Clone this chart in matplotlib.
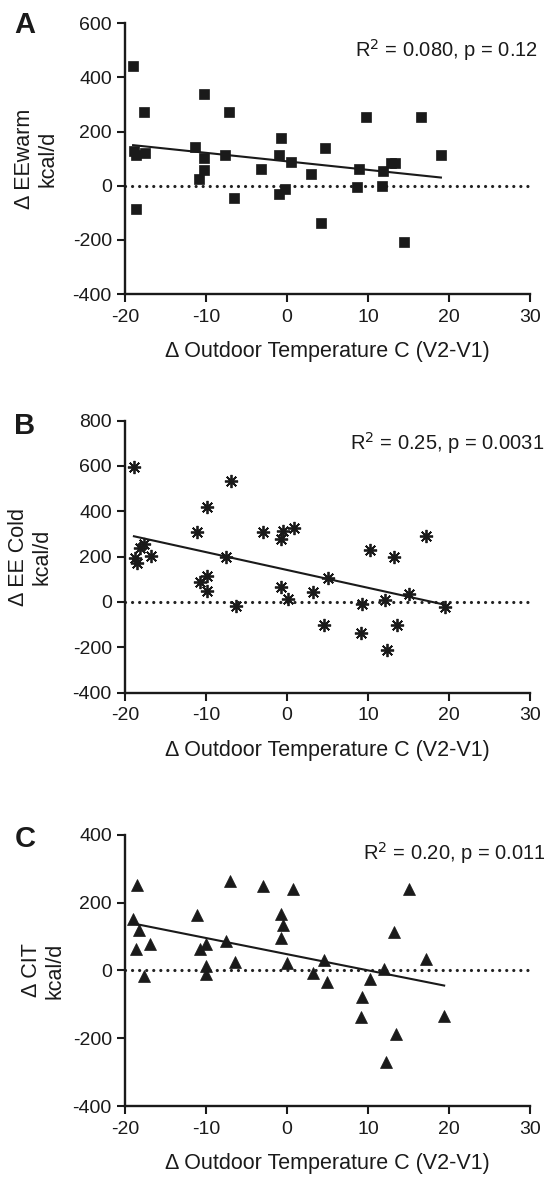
import numpy as np
import matplotlib
matplotlib.use("Agg")
import matplotlib.pyplot as plt

plt.rcParams['font.family'] = ['Liberation Sans', 'DejaVu Sans']
plt.rcParams['axes.unicode_minus'] = False

# ---------------- data ----------------
# Panel A: delta EEwarm
a_temp = [-19.0, -18.6, -17.7, -18.9, -18.6, -17.5, -11.3, -10.2, -10.2, -10.2, -10.9,
          -7.7, -7.2, -6.6, -3.2, -1.0, -0.75, -1.0, -0.2, 0.55, 2.9, 4.2, 4.65,
          8.9, 8.7, 9.8, 11.7, 11.9, 12.8, 13.3, 14.5, 16.6, 19.0]
a_val = [443, -84, 273, 130, 115, 120, 144, 338, 101, 58, 24,
         114, 272, -47, 62, 114, 178, -31, -12, 89, 43, -137, 138,
         62, -4, 255, 0, 54, 83, 83, -207, 255, 112]

# Panel B: delta EE Cold
b_temp = [-18.9, -18.8, -18.5, -18.1, -17.6, -16.8, -11.15, -9.9, -10.7, -9.9, -9.9,
          -6.95, -7.5, -6.3, -3.0, -0.8, -0.45, 0.86, -0.8, 0.08, 3.25, 5.0, 4.6,
          9.3, 9.1, 10.2, 12.1, 13.2, 13.6, 15.1, 17.1, 19.5, 12.3]
b_val = [596, 193, 171, 237, 255, 202, 309, 420, 89, 115, 48,
         534, 199, -19, 309, 280, 314, 328, 67, 12, 42, 106, -102,
         -11, -136, 231, 8, 199, -102, 34, 290, -21, -213]

# Panel C: delta CIT
c_temp = [-18.5, -19.0, -18.3, -18.6, -16.9, -17.6, -11.15, -10.7, -10.0, -10.0, -10.0,
          -7.0, -7.5, -6.4, -3.0, -0.8, -0.55, -0.8, 0.78, 0.04, 3.25, 4.57, 4.9,
          10.2, 9.3, 9.1, 12.0, 13.2, 13.5, 15.0, 17.1, 19.4, 12.2]
c_val = [251, 152, 120, 63, 79, -16, 164, 64, 79, 12, -11,
         264, 88, 26, 248, 166, 133, 95, 240, 21, -6, 31, -35,
         -26, -77, -136, 5, 113, -188, 241, 33, -134, -269]

x_ticks = [-20, -10, 0, 10, 20, 30]

panels = [
    dict(letter='A', x=a_temp, y=a_val, ylabel='\u0394 EEwarm\nkcal/d',
         ylim=(-400, 600), yticks=[-400, -200, 0, 200, 400, 600],
         stat='R$^2$ = 0.080, p = 0.12', marker='s', ms=7.5, mew=0.5,
         rect=(0.2298, 0.7506, 0.7445, 0.2296), ylab_x=36, stat_xy=(355, 50),
         letter_y=25),
    dict(letter='B', x=b_temp, y=b_val, ylabel='\u0394 EE Cold\nkcal/d',
         ylim=(-400, 800), yticks=[-400, -200, 0, 200, 400, 600, 800],
         stat='R$^2$ = 0.25, p = 0.0031', marker=(8, 2, 0), ms=9.5, mew=1.3,
         rect=(0.2298, 0.4125, 0.7445, 0.2307), ylab_x=30, stat_xy=(350, 443),
         letter_y=426),
    dict(letter='C', x=c_temp, y=c_val, ylabel='\u0394 CIT\nkcal/d',
         ylim=(-400, 400), yticks=[-400, -200, 0, 200, 400],
         stat='R$^2$ = 0.20, p = 0.011', marker='^', ms=9, mew=0.5,
         rect=(0.2298, 0.0619, 0.7445, 0.2299), ylab_x=43, stat_xy=(363, 853),
         letter_y=839),
]

W, H = 544, 1179
fig = plt.figure(figsize=(W / 100, H / 100), dpi=100)
ink = '#1a1a1a'

for p in panels:
    ax = fig.add_axes(p['rect'])
    x = np.array(p['x'], dtype=float)
    y = np.array(p['y'], dtype=float)
    ax.plot([-20, 30], [0, 0], color='#222222', lw=2.3, linestyle=(0, (0.01, 2.2)),
            dash_capstyle='round', zorder=1)
    slope, intercept = np.polyfit(x, y, 1)
    xs = np.array([x.min(), x.max()])
    ax.plot(xs, slope * xs + intercept, color=ink, lw=1.5, zorder=2)
    ax.plot(x, y, linestyle='none', marker=p['marker'], ms=p['ms'],
            color=ink, mec=ink, mew=p['mew'], zorder=3, clip_on=False)
    ax.set_xlim(-20, 30)
    ax.set_ylim(*p['ylim'])
    ax.set_xticks(x_ticks)
    ax.set_yticks(p['yticks'])
    for s in ['top', 'right']:
        ax.spines[s].set_visible(False)
    for s in ['left', 'bottom']:
        ax.spines[s].set_linewidth(1.7)
        ax.spines[s].set_color(ink)
    ax.tick_params(direction='out', length=5.5, width=1.5, color=ink,
                   labelsize=14, labelcolor=ink)
    ax.tick_params(axis='x', pad=5)
    ax.tick_params(axis='y', pad=4)
    ax.set_xlabel('\u0394 Outdoor Temperature C (V2-V1)', fontsize=15.5,
                  color=ink, labelpad=11)
    ax.patch.set_alpha(0)
    yc = p['rect'][1] + p['rect'][3] / 2
    fig.text(p['ylab_x'] / W, yc, p['ylabel'], rotation=90, ha='center', va='center',
             multialignment='center', fontsize=15.5, color=ink, linespacing=1.15)
    fig.text(p['stat_xy'][0] / W, 1 - p['stat_xy'][1] / H, p['stat'], ha='left',
             va='center', fontsize=14.5, color=ink)
    fig.text(25 / W, 1 - p['letter_y'] / H, p['letter'], ha='center', va='center',
             fontsize=21, fontweight='bold', color=ink)

fig.savefig('out.png', dpi=100)
